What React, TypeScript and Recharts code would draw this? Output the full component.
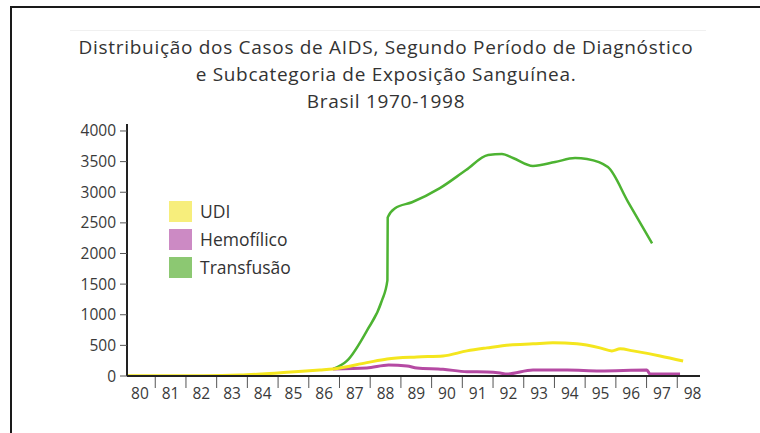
import { LineChart, Line, XAxis, YAxis } from "recharts";

// anos (fração de ano = posição entre os rótulos do eixo)
const udiYears = [79.58, 82.08, 83.26, 83.97, 84.92, 85.86, 86.29, 87.39, 88.05, 89.02, 89.87, 90.65, 91.3, 92.05, 92.8, 93.45, 94.23, 94.98, 95.37, 95.64, 96.06, 96.94, 97.69];
const udiValues = [5, 5, 15, 33, 66, 98, 115, 218, 279, 312, 328, 410, 459, 508, 525, 541, 525, 459, 410, 443, 410, 328, 246];

const hemoYears = [86.29, 87.39, 88.1, 88.7, 89.02, 89.87, 90.65, 91.3, 91.73, 91.95, 92.8, 93.91, 94.98, 96.51, 96.61, 97.59];
const hemoValues = [115, 131, 180, 164, 131, 110, 70, 66, 49, 33, 98, 98, 82, 98, 33, 33];

const transYears = [86.29, 86.74, 87.39, 87.88, 88.06, 88.07, 88.31, 88.86, 89.77, 90.62, 91.34, 91.79, 92.15, 92.8, 93.52, 94.17, 94.56, 95.24, 95.9, 96.68];
const transValues = [115, 246, 738, 1230, 1560, 2590, 2739, 2837, 3067, 3362, 3608, 3624, 3559, 3428, 3493, 3559, 3542, 3411, 2840, 2165];

const xTicks = [80, 81, 82, 83, 84, 85, 86, 87, 88, 89, 90, 91, 92, 93, 94, 95, 96, 97, 98];
const yTicks = [0, 500, 1000, 1500, 2000, 2500, 3000, 3500, 4000];

const titleLines = [
  "Distribuição dos Casos de AIDS, Segundo Período de Diagnóstico",
  "e Subcategoria de Exposição Sanguínea.",
  "Brasil 1970-1998",
];

const legendItems = [
  { name: "UDI", color: "#f7ee7c" },
  { name: "Hemofílico", color: "#cc8ac4" },
  { name: "Transfusão", color: "#8cc872" },
];

const FONT = "'Open Sans', sans-serif";
const X_DOMAIN: [number, number] = [79.58, 98.24];
const PLOT_LEFT = 127;
const PLOT_RIGHT = 700;
const HALF_STEP = (PLOT_RIGHT - PLOT_LEFT) / (X_DOMAIN[1] - X_DOMAIN[0]) / 2;

const toRows = (years: number[], values: number[]) =>
  years.map((year, i) => ({ year, v: values[i] }));

const udiData = toRows(udiYears, udiValues);
const hemoData = toRows(hemoYears, hemoValues);
const transData = toRows(transYears, transValues);

const XTick = (props: any) => {
  const { x, y, payload } = props;
  const last = payload.value === xTicks[xTicks.length - 1];
  return (
    <g>
      {!last && (
        <line
          x1={x + HALF_STEP}
          x2={x + HALF_STEP}
          y1={y + 1}
          y2={y + 12}
          stroke="#555"
          strokeWidth={1}
        />
      )}
      <text
        x={x}
        y={y + 23}
        textAnchor="middle"
        fill="#3a3a3a"
        fontSize={15.5}
        fontFamily={FONT}
      >
        {String(payload.value)}
      </text>
    </g>
  );
};

const LegendBox = () => (
  <div style={{ position: "absolute", left: 169, top: 197, fontFamily: FONT }}>
    {legendItems.map((item) => (
      <div
        key={item.name}
        style={{ display: "flex", alignItems: "center", height: 28 }}
      >
        <div
          style={{
            width: 23,
            height: 21,
            background: item.color,
            marginRight: 8,
          }}
        />
        <span style={{ fontSize: 17.5, color: "#333" }}>{item.name}</span>
      </div>
    ))}
  </div>
);

export default function App() {
  return (
    <div
      style={{
        position: "absolute",
        left: 0,
        top: 0,
        width: 760,
        height: 433,
        background: "#fff",
        fontFamily: FONT,
        overflow: "hidden",
      }}
    >
      <div
        style={{
          position: "absolute",
          left: 10,
          top: 6,
          right: 0,
          bottom: -10,
          borderTop: "2px solid #1a1a1a",
          borderLeft: "2px solid #1a1a1a",
        }}
      />
      <div
        style={{
          position: "absolute",
          left: 70,
          top: 30,
          width: 636,
          height: 1,
          background: "#f0f0f0",
        }}
      />
      {titleLines.map((line, i) => (
        <div
          key={i}
          style={{
            position: "absolute",
            left: 0,
            width: 772,
            top: 34 + i * 27,
            lineHeight: "27px",
            textAlign: "center",
            fontSize: 19,
            fontWeight: 500,
            letterSpacing: 0.7,
            color: "#333",
            whiteSpace: "nowrap",
          }}
        >
          {line}
        </div>
      ))}
      <div style={{ position: "absolute", left: 0, top: 0 }}>
        <LineChart
          width={760}
          height={433}
          margin={{ top: 124, right: 760 - PLOT_RIGHT, bottom: 0, left: 0 }}
        >
          <XAxis
            dataKey="year"
            type="number"
            domain={X_DOMAIN}
            ticks={xTicks}
            allowDataOverflow
            tickLine={false}
            tickSize={0}
            tickMargin={0}
            axisLine={{ stroke: "#222", strokeWidth: 2 }}
            tick={<XTick />}
            height={57}
          />
          <YAxis
            type="number"
            domain={[0, 4114]}
            ticks={yTicks}
            allowDataOverflow
            width={PLOT_LEFT}
            tickSize={7}
            tickMargin={4}
            tickLine={{ stroke: "#555" }}
            axisLine={{ stroke: "#222", strokeWidth: 2 }}
            tick={{ fill: "#3a3a3a", fontSize: 15.5, fontFamily: FONT }}
          />
          <Line
            data={transData}
            dataKey="v"
            name="Transfusão"
            type="monotone"
            stroke="#4db332"
            strokeWidth={2.5}
            dot={false}
            isAnimationActive={false}
          />
          <Line
            data={hemoData}
            dataKey="v"
            name="Hemofílico"
            type="monotone"
            stroke="#b54aa3"
            strokeWidth={3}
            dot={false}
            isAnimationActive={false}
          />
          <Line
            data={udiData}
            dataKey="v"
            name="UDI"
            type="monotone"
            stroke="#f4e61e"
            strokeWidth={3}
            dot={false}
            isAnimationActive={false}
          />
        </LineChart>
      </div>
      <LegendBox />
    </div>
  );
}
